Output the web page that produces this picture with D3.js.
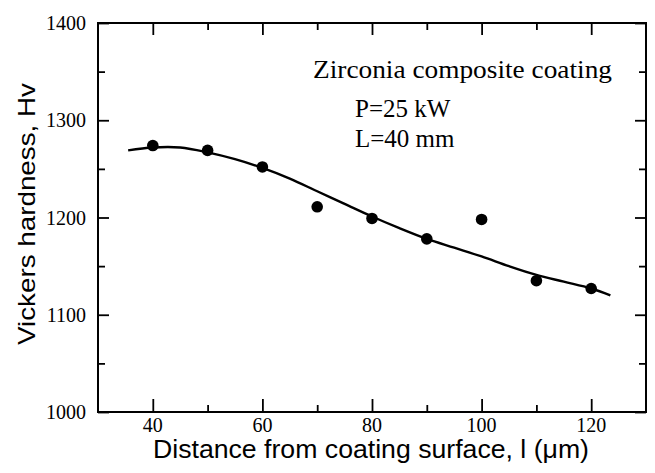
<!DOCTYPE html>
<html>
<head>
<meta charset="utf-8">
<script src="https://cdn.jsdelivr.net/npm/d3@7"></script>
<style>
  body { margin: 0; background: #fff; }
  svg { display: block; }
  .tick-lbl { font-family: "Liberation Serif", "Times New Roman", serif; font-size: 20px; fill: #000; }
  .note { font-family: "Liberation Serif", "Times New Roman", serif; font-size: 25px; fill: #000; }
  .axis-title { font-family: "Liberation Sans", Arial, sans-serif; fill: #000; }
</style>
</head>
<body>
<svg id="chart" width="655" height="473"></svg>
<script>
// measured hardness points
let distance = [40, 50, 60, 70, 80, 90, 100, 110, 120];
let hardness = [1274, 1269, 1252, 1211, 1199, 1178, 1198, 1135, 1127];

// fitted curve
let fitX = [35.5, 40, 45, 50, 55, 60, 65, 70, 75, 80, 85, 90, 95, 100, 105, 110, 115, 120, 123.5];
let fitY = [1269, 1272, 1272, 1267, 1260, 1251, 1240, 1227, 1214, 1201, 1189, 1178, 1169, 1160, 1150, 1141, 1134, 1127, 1120];

let xTicks = [40, 60, 80, 100, 120];
let xMinor = [50, 70, 90, 110];
let yTicks = [1000, 1100, 1200, 1300, 1400];
let yMinor = [1050, 1150, 1250, 1350];

let noteLines = ["Zirconia composite coating", "P=25 kW", "L=40 mm"];

let svg = d3.select("#chart"),
    margin = {top: 23, right: 9, bottom: 61, left: 98},
    width = 655 - margin.left - margin.right,
    height = 473 - margin.top - margin.bottom,
    g = svg.append("g").attr("transform", "translate(" + margin.left + "," + margin.top + ")");

let x = d3.scaleLinear().domain([30, 130]).range([0, width]);
let y = d3.scaleLinear().domain([1000, 1400]).range([height, 0]);

// frame
g.append("rect")
    .attr("width", width)
    .attr("height", height)
    .attr("fill", "none")
    .attr("stroke", "#000")
    .attr("stroke-width", 2);

// ticks, all pointing inward
function tickAxis(axis, vals, size) {
    return axis.tickValues(vals).tickSize(size).tickFormat("");
}
g.append("g").attr("transform", "translate(0," + height + ")")
    .call(tickAxis(d3.axisTop(x), xTicks, 13));
g.append("g").attr("transform", "translate(0," + height + ")")
    .call(tickAxis(d3.axisTop(x), xMinor, 7));
g.append("g").call(tickAxis(d3.axisBottom(x), xTicks, 12));
g.append("g").call(tickAxis(d3.axisBottom(x), xMinor, 7));
g.append("g").call(tickAxis(d3.axisRight(y), yTicks, 11));
g.append("g").call(tickAxis(d3.axisRight(y), yMinor, 7));
g.append("g").attr("transform", "translate(" + width + ",0)")
    .call(tickAxis(d3.axisLeft(y), yTicks, 11));
g.append("g").attr("transform", "translate(" + width + ",0)")
    .call(tickAxis(d3.axisLeft(y), yMinor, 7));
g.selectAll(".domain").remove();
g.selectAll(".tick line").attr("stroke", "#000").attr("stroke-width", 1.8);

// tick labels
g.selectAll(".xl").data(xTicks).enter().append("text")
    .attr("class", "tick-lbl")
    .attr("x", d => x(d))
    .attr("y", height + 20)
    .attr("text-anchor", "middle")
    .text(d => d);
g.selectAll(".yl").data(yTicks).enter().append("text")
    .attr("class", "tick-lbl")
    .attr("x", -12)
    .attr("y", d => y(d))
    .attr("dy", "0.35em")
    .attr("text-anchor", "end")
    .text(d => d);

// fitted curve
let fit = fitX.map((d, i) => [d, fitY[i]]);
g.append("path")
    .datum(fit)
    .attr("fill", "none")
    .attr("stroke", "#000")
    .attr("stroke-width", 2.4)
    .attr("d", d3.line().x(d => x(d[0])).y(d => y(d[1])).curve(d3.curveCatmullRom));

// data points
g.selectAll(".pt").data(distance).enter().append("circle")
    .attr("cx", d => x(d))
    .attr("cy", (d, i) => y(hardness[i]))
    .attr("r", 5.8)
    .attr("fill", "#000");

// annotation
let noteX = [215, 257, 257], noteY = [55, 94, 124];
g.selectAll(".note").data(noteLines).enter().append("text")
    .attr("class", "note")
    .attr("x", (d, i) => noteX[i])
    .attr("y", (d, i) => noteY[i])
    .text(d => d);
g.select(".note").attr("textLength", 299).attr("lengthAdjust", "spacingAndGlyphs");

// axis titles
svg.append("text")
    .attr("class", "axis-title")
    .attr("x", 371)
    .attr("y", 458)
    .attr("text-anchor", "middle")
    .style("font-size", "25px")
    .attr("textLength", 436)
    .attr("lengthAdjust", "spacingAndGlyphs")
    .text("Distance from coating surface, l (\u03bcm)");
svg.append("text")
    .attr("class", "axis-title")
    .attr("transform", "translate(35,214) rotate(-90)")
    .attr("text-anchor", "middle")
    .style("font-size", "24px")
    .attr("textLength", 262)
    .attr("lengthAdjust", "spacingAndGlyphs")
    .text("Vickers hardness, Hv");
</script>
</body>
</html>
